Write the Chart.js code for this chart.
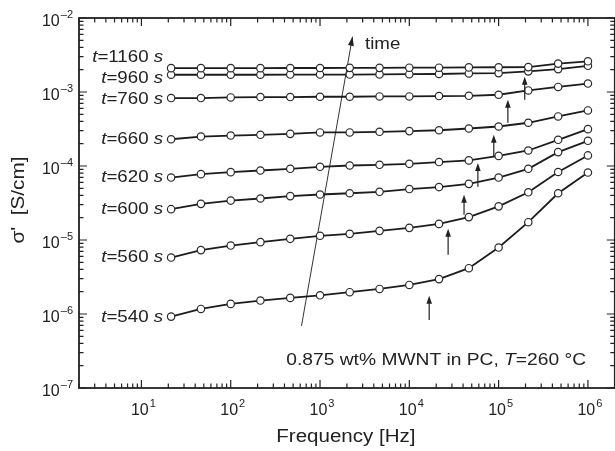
<!DOCTYPE html>
<html>
<head>
<meta charset="utf-8">
<script src="https://cdn.jsdelivr.net/npm/chart.js@4/dist/chart.umd.min.js"></script>
<style>
  html, body { margin: 0; padding: 0; background: #fff; overflow: hidden; }
  canvas { display: block; }
</style>
</head>
<body>
<canvas id="sigmaChart" width="620" height="451"></canvas>
<script>
/* frequency points (Hz), same for every curve */
var freq = [21.5, 46.4, 100, 215, 464, 1000, 2150, 4640, 10000, 21500, 46400, 100000, 215000, 464000, 1000000];

/* curing times (s) and conductivity sigma' (S/cm) */
var times = [1160, 960, 760, 660, 620, 600, 560, 540];
var s1160 = [2.10e-3, 2.10e-3, 2.10e-3, 2.10e-3, 2.11e-3, 2.11e-3, 2.12e-3, 2.12e-3, 2.13e-3, 2.13e-3, 2.15e-3, 2.16e-3, 2.17e-3, 2.42e-3, 2.60e-3];
var s960  = [1.71e-3, 1.71e-3, 1.71e-3, 1.71e-3, 1.72e-3, 1.72e-3, 1.72e-3, 1.73e-3, 1.74e-3, 1.75e-3, 1.78e-3, 1.80e-3, 1.90e-3, 2.04e-3, 2.26e-3];
var s760  = [8.28e-4, 8.28e-4, 8.44e-4, 8.55e-4, 8.55e-4, 8.63e-4, 8.63e-4, 8.71e-4, 8.71e-4, 8.81e-4, 8.89e-4, 9.18e-4, 1.05e-3, 1.17e-3, 1.30e-3];
var s660  = [2.30e-4, 2.50e-4, 2.58e-4, 2.64e-4, 2.72e-4, 2.84e-4, 2.84e-4, 2.90e-4, 2.96e-4, 3.04e-4, 3.21e-4, 3.42e-4, 3.84e-4, 4.67e-4, 5.63e-4];
var s620  = [6.98e-5, 7.76e-5, 8.26e-5, 8.69e-5, 9.16e-5, 9.75e-5, 1.016e-4, 1.038e-4, 1.07e-4, 1.13e-4, 1.19e-4, 1.37e-4, 1.62e-4, 2.26e-4, 3.15e-4];
var s600  = [2.61e-5, 3.08e-5, 3.41e-5, 3.64e-5, 3.92e-5, 4.12e-5, 4.28e-5, 4.48e-5, 4.88e-5, 5.19e-5, 5.74e-5, 6.98e-5, 9.16e-5, 1.54e-4, 2.19e-4];
var s560  = [5.79e-6, 7.30e-6, 8.41e-6, 9.35e-6, 1.037e-5, 1.14e-5, 1.21e-5, 1.33e-5, 1.46e-5, 1.65e-5, 2.04e-5, 2.85e-5, 4.41e-5, 8.30e-5, 1.39e-4];
var s540  = [9.22e-7, 1.17e-6, 1.37e-6, 1.52e-6, 1.65e-6, 1.79e-6, 1.97e-6, 2.18e-6, 2.47e-6, 2.96e-6, 4.16e-6, 7.91e-6, 1.74e-5, 4.28e-5, 8.15e-5];
var series = [s1160, s960, s760, s660, s620, s600, s560, s540];

/* small upward arrows marking the onset of dispersion */
var arrowFreq = [1.96e5, 1.27e5, 8.83e4, 5.86e4, 4.10e4, 2.72e4, 1.67e4];
var arrowTip  = [1.61e-3, 7.85e-4, 2.64e-4, 1.10e-4, 4.08e-5, 1.42e-5, 1.76e-6];
var arrowTail = [7.85e-4, 3.84e-4, 1.33e-4, 5.23e-5, 2.19e-5, 6.3e-6, 8.3e-7];

/* long "time" arrow */
var timeFreq  = [620, 2310];
var timeSigma = [6.9e-7, 5.58e-3];

/* tick labels (exponents of 10) */
var xExponents = [1, 2, 3, 4, 5, 6];
var yExponents = [-7, -6, -5, -4, -3, -2];

var FONT = '"Liberation Sans", Arial, sans-serif';
var INK = '#1c1c1c';

var datasets = [];
for (var i = 0; i < series.length; i++) {
    datasets.push({
        label: 't=' + times[i] + ' s',
        data: freq.map(function (f, k) { return { x: f, y: series[i][k] }; }),
        borderColor: INK,
        borderWidth: 1.8,
        pointRadius: 3.7,
        pointBackgroundColor: '#fff',
        pointBorderColor: '#2a2a2a',
        pointBorderWidth: 1.2,
        tension: 0
    });
}
datasets.push({
    label: 'time',
    data: timeFreq.map(function (f, k) { return { x: f, y: timeSigma[k] }; }),
    borderColor: '#333',
    borderWidth: 1,
    pointRadius: 0,
    tension: 0
});

function arrowHead(ctx, x0, y0, x1, y1, len, half) {
    var ang = Math.atan2(y1 - y0, x1 - x0);
    ctx.beginPath();
    ctx.moveTo(x1, y1);
    ctx.lineTo(x1 - len * Math.cos(ang) + half * Math.sin(ang), y1 - len * Math.sin(ang) - half * Math.cos(ang));
    ctx.lineTo(x1 - len * Math.cos(ang) - half * Math.sin(ang), y1 - len * Math.sin(ang) + half * Math.cos(ang));
    ctx.closePath();
    ctx.fill();
}

// draws "10" with a superscript exponent; align = 'center' or 'right'
function powerLabel(ctx, exp, x, y, align) {
    var base = '10', sup = String(exp).replace('-', '\u2013');
    ctx.font = '16px ' + FONT;
    var wb = ctx.measureText(base).width;
    ctx.font = '11px ' + FONT;
    var ws = ctx.measureText(sup).width;
    var x0 = align === 'right' ? x - wb - ws - 1 : x - (wb + ws + 1) / 2;
    ctx.textAlign = 'left';
    ctx.textBaseline = 'middle';
    ctx.font = '16px ' + FONT;
    ctx.fillText(base, x0, y);
    ctx.font = '11px ' + FONT;
    ctx.fillText(sup, x0 + wb + 1, y - 7);
}

// italic and upright pieces in one line, stretched a little sideways like the original lettering
function mixedText(ctx, parts, x, y, size, align, stretch) {
    var total = 0;
    parts.forEach(function (p) {
        ctx.font = (p[1] ? 'italic ' : '') + size + 'px ' + FONT;
        total += ctx.measureText(p[0]).width;
    });
    ctx.save();
    ctx.translate(x, y);
    ctx.scale(stretch, 1);
    var cx = align === 'right' ? -total : (align === 'center' ? -total / 2 : 0);
    ctx.textAlign = 'left';
    ctx.textBaseline = 'middle';
    parts.forEach(function (p) {
        ctx.font = (p[1] ? 'italic ' : '') + size + 'px ' + FONT;
        ctx.fillText(p[0], cx, 0);
        cx += ctx.measureText(p[0]).width;
    });
    ctx.restore();
}

var decorPlugin = {
    id: 'decor',
    afterDraw: function (chart) {
        var ctx = chart.ctx, xs = chart.scales.x, ys = chart.scales.y, a = chart.chartArea;
        ctx.save();
        ctx.strokeStyle = '#222';
        ctx.fillStyle = '#222';

        // frame
        ctx.lineWidth = 1.8;
        ctx.strokeRect(a.left, a.top, a.right - a.left, a.bottom - a.top);

        // inward ticks on all four sides
        ctx.lineWidth = 1.2;
        ctx.beginPath();
        for (var e = 0; e <= 6; e++) {
            for (var m = 1; m <= 9; m++) {
                var v = m * Math.pow(10, e);
                if (v < xs.min || v > xs.max) continue;
                var px = xs.getPixelForValue(v), len = m === 1 ? 8 : 4.5;
                ctx.moveTo(px, a.bottom); ctx.lineTo(px, a.bottom - len);
                ctx.moveTo(px, a.top); ctx.lineTo(px, a.top + len);
            }
        }
        for (var e2 = -7; e2 <= -2; e2++) {
            for (var m2 = 1; m2 <= 9; m2++) {
                var v2 = m2 * Math.pow(10, e2);
                if (v2 < ys.min * 0.999 || v2 > ys.max * 1.001) continue;
                var py = ys.getPixelForValue(v2), len2 = m2 === 1 ? 8 : 4.5;
                ctx.moveTo(a.left, py); ctx.lineTo(a.left + len2, py);
                ctx.moveTo(a.right, py); ctx.lineTo(a.right - len2, py);
            }
        }
        ctx.stroke();

        // tick labels
        xExponents.forEach(function (ex) {
            powerLabel(ctx, ex, xs.getPixelForValue(Math.pow(10, ex)) + 2, a.bottom + 23, 'center');
        });
        yExponents.forEach(function (ex) {
            powerLabel(ctx, ex, a.left - 6, ys.getPixelForValue(Math.pow(10, ex)) + 4, 'right');
        });

        // axis titles
        mixedText(ctx, [['Frequency [Hz]', false]], (a.left + a.right) / 2 - 1, 437, 18, 'center', 1.14);
        ctx.save();
        ctx.translate(19, 200);
        ctx.rotate(-Math.PI / 2);
        mixedText(ctx, [['\u03c3\'  [S/cm]', false]], 0, 0, 18, 'center', 1.15);
        ctx.restore();

        // curve labels next to the first point
        var labelShift = [-11, 4, 1, 0, 0, 0, 0, 1];
        times.forEach(function (t, i) {
            var px = xs.getPixelForValue(freq[0]) - 8;
            var py = ys.getPixelForValue(series[i][0]) + labelShift[i];
            mixedText(ctx, [['t', true], ['=' + t + ' ', false], ['s', true]], px, py, 17, 'right', 1.1);
        });

        // small arrows
        ctx.lineWidth = 1.2;
        arrowFreq.forEach(function (f, i) {
            var x = xs.getPixelForValue(f);
            var y0 = ys.getPixelForValue(arrowTail[i]), y1 = ys.getPixelForValue(arrowTip[i]);
            ctx.beginPath(); ctx.moveTo(x, y0); ctx.lineTo(x, y1 + 6); ctx.stroke();
            arrowHead(ctx, x, y0, x, y1, 8, 2.8);
        });

        // time arrow head and label
        var tx0 = xs.getPixelForValue(timeFreq[0]), ty0 = ys.getPixelForValue(timeSigma[0]);
        var tx1 = xs.getPixelForValue(timeFreq[1]), ty1 = ys.getPixelForValue(timeSigma[1]);
        arrowHead(ctx, tx0, ty0, tx1, ty1, 9, 3);
        mixedText(ctx, [['time', false]], 365, 44, 17, 'left', 1.1);

        // sample note
        mixedText(ctx, [['0.875 wt% MWNT in PC, ', false], ['T', true], ['=260 \u00b0C', false]], 586, 360, 17, 'right', 1.13);

        ctx.restore();
    }
};

var ctx = document.getElementById('sigmaChart').getContext('2d');
var chart = new Chart(ctx, {
    type: 'line',
    data: { datasets: datasets },
    options: {
        responsive: false,
        animation: false,
        layout: { padding: { left: 79, top: 18, right: 3, bottom: 63 } },
        plugins: { legend: { display: false }, tooltip: { enabled: false } },
        scales: {
            x: { type: 'logarithmic', min: 2, max: 2e6, display: false },
            y: { type: 'logarithmic', min: 1e-7, max: 1e-2, display: false }
        }
    },
    plugins: [decorPlugin]
});
</script>
</body>
</html>
